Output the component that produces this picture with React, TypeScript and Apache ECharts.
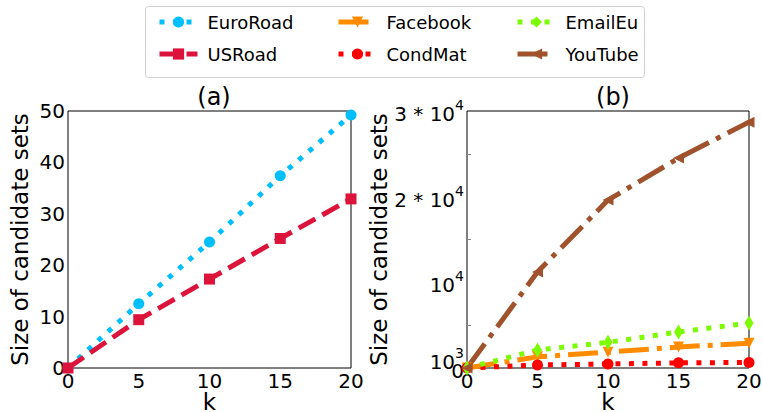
import React, { useEffect, useRef } from "react";
import * as echarts from "echarts";

const K = [0, 5, 10, 15, 20];
const euroRoad = [0, 12.5, 24.5, 37.4, 49.2];
const usRoad = [0, 9.4, 17.3, 25.2, 32.9];
const facebook = [0, 1300, 1850, 2450, 2900];
const condMat = [0, 350, 470, 600, 650];
const emailEu = [0, 2100, 3000, 4200, 5250];
const youTube = [0, 11200, 19600, 24500, 28700];
const xTicks = [0, 5, 10, 15, 20];
const bLabelValues = [0, 10000, 20000, 30000];
const bExtraLabel = [1000];
const bMinorTicks = [5000, 15000, 25000];

const FONT = "DejaVu Sans";
const LW = 5;
const DOT = [5, 8.5];
const DASH = [19, 8];
const DASHDOT = [30, 8, 5, 8];

function pts(vals: number[]) {
  return K.map((k, i) => [k, vals[i]]);
}

function fmtB(v: number) {
  if (v === 0) return "{m|0}";
  if (v === 1000) return "{m|10}{s|3}";
  if (v === 10000) return "{m|10}{s|4}";
  return "{m|" + v / 10000 + " * 10}{s|4}";
}

const richB = {
  m: { fontFamily: FONT, fontSize: 20, color: "#000", lineHeight: 26, verticalAlign: "bottom" },
  s: { fontFamily: FONT, fontSize: 14, color: "#000", lineHeight: 14, verticalAlign: "top" },
};

export default function App() {
  const ref = useRef<HTMLDivElement>(null);
  useEffect(() => {
    if (!ref.current) return;
    document.body.style.margin = "0";
    const chart = echarts.init(ref.current, null, { renderer: "svg" });
    const axisText = { fontFamily: FONT, fontSize: 20, color: "#000" };
    const nameText = { fontFamily: FONT, fontSize: 23, color: "#000" };
    const xAxisBase = (gi: number) => ({
      type: "value",
      gridIndex: gi,
      min: 0,
      max: 20,
      interval: 5,
      axisLine: { show: false },
      axisTick: { show: false },
      splitLine: { show: false },
      axisLabel: { ...axisText, margin: 3, showMinLabel: true, showMaxLabel: true, formatter: (v: number) => (xTicks.includes(v) ? String(v) : "") },
      name: "k",
      nameLocation: "middle",
      nameGap: 25,
      nameMoveOverlap: false,
      nameTextStyle: { ...nameText, lineHeight: 18 },
    });
    const mkLine = (name: string, vals: number[], color: string, dash: number[], symbol: string, size: any, rotate: number, xi: number) => ({
      type: "line",
      name,
      xAxisIndex: xi,
      yAxisIndex: xi,
      data: pts(vals),
      symbol,
      symbolSize: size,
      symbolRotate: rotate,
      showAllSymbol: true,
      lineStyle: { color, width: LW, type: dash, cap: "butt" },
      itemStyle: { color, borderWidth: 0 },
      clip: true,
      z: 2,
    });
    const legendBase = {
      orient: "vertical",
      top: 8,
      itemWidth: 38,
      itemHeight: 14,
      itemGap: 14,
      lineStyle: { width: LW },
      textStyle: { fontFamily: FONT, fontSize: 18, color: "#000", padding: [0, 0, 0, 5] },
    };
    chart.setOption({
      animation: false,
      backgroundColor: "#fff",
      title: [
        { text: "(a)", left: 209, top: 80, textAlign: "center", textStyle: { fontFamily: FONT, fontSize: 24, fontWeight: "normal", color: "#000" } },
        { text: "(b)", left: 608, top: 80, textAlign: "center", textStyle: { fontFamily: FONT, fontSize: 24, fontWeight: "normal", color: "#000" } },
      ],
      legend: [
        { ...legendBase, left: 152, data: ["EuroRoad", "USRoad"] },
        { ...legendBase, left: 331, data: ["Facebook", "CondMat"] },
        { ...legendBase, left: 510, data: ["EmailEu", "YouTube"] },
      ],
      graphic: [
        {
          type: "rect",
          shape: { x: 145.5, y: 6.5, width: 499, height: 71, r: 3 },
          style: { fill: "none", stroke: "#d0d0d0", lineWidth: 1 },
          z: -1,
        },
      ],
      grid: [
        { left: 68, top: 111, width: 283, height: 257, show: true, borderColor: "#000", borderWidth: 1, backgroundColor: "transparent", outerBoundsMode: "none", containLabel: false },
        { left: 467, top: 111, width: 282, height: 257, show: true, borderColor: "#000", borderWidth: 1, backgroundColor: "transparent", outerBoundsMode: "none", containLabel: false },
      ],
      xAxis: [xAxisBase(0), xAxisBase(1)],
      yAxis: [
        {
          type: "value",
          gridIndex: 0,
          min: 0,
          max: 50,
          interval: 10,
          axisLine: { show: false },
          axisTick: { show: false },
          splitLine: { show: false },
          axisLabel: { ...axisText, margin: 3, showMinLabel: true, showMaxLabel: true },
          name: "Size of candidate sets",
          nameLocation: "middle",
          nameGap: 37,
          nameTextStyle: nameText,
        },
        {
          type: "value",
          gridIndex: 1,
          min: 0,
          max: 30000,
          axisLine: { show: false },
          axisTick: { show: true, inside: true, length: 4, customValues: bMinorTicks, lineStyle: { color: "#888" } },
          splitLine: { show: false },
          axisLabel: {
            customValues: bLabelValues,
            margin: 3,
            showMinLabel: true,
            showMaxLabel: true,
            formatter: fmtB,
            rich: richB,
          },
          name: "Size of candidate sets",
          nameLocation: "middle",
          nameGap: 77,
          nameTextStyle: nameText,
        },
        {
          type: "value",
          gridIndex: 1,
          position: "left",
          min: 0,
          max: 30000,
          axisLine: { show: false },
          axisTick: { show: false },
          splitLine: { show: false },
          axisLabel: {
            customValues: bExtraLabel,
            margin: 3,
            showMinLabel: true,
            showMaxLabel: true,
            formatter: fmtB,
            rich: richB,
          },
        },
      ],
      series: [
        mkLine("EuroRoad", euroRoad, "#00BFFF", DOT, "circle", 11, 0, 0),
        mkLine("USRoad", usRoad, "#DC143C", DASH, "rect", 11, 0, 0),
        mkLine("Facebook", facebook, "#FF8C00", DASHDOT, "triangle", 11, 180, 1),
        mkLine("CondMat", condMat, "#FF0000", DOT, "circle", 11, 0, 1),
        mkLine("EmailEu", emailEu, "#7CFC00", DOT, "diamond", [9, 15], 0, 1),
        mkLine("YouTube", youTube, "#A0522D", DASHDOT, "triangle", 11, 90, 1),
      ],
    });
    return () => chart.dispose();
  }, []);
  return <div ref={ref} style={{ width: 762, height: 412 }} />;
}
